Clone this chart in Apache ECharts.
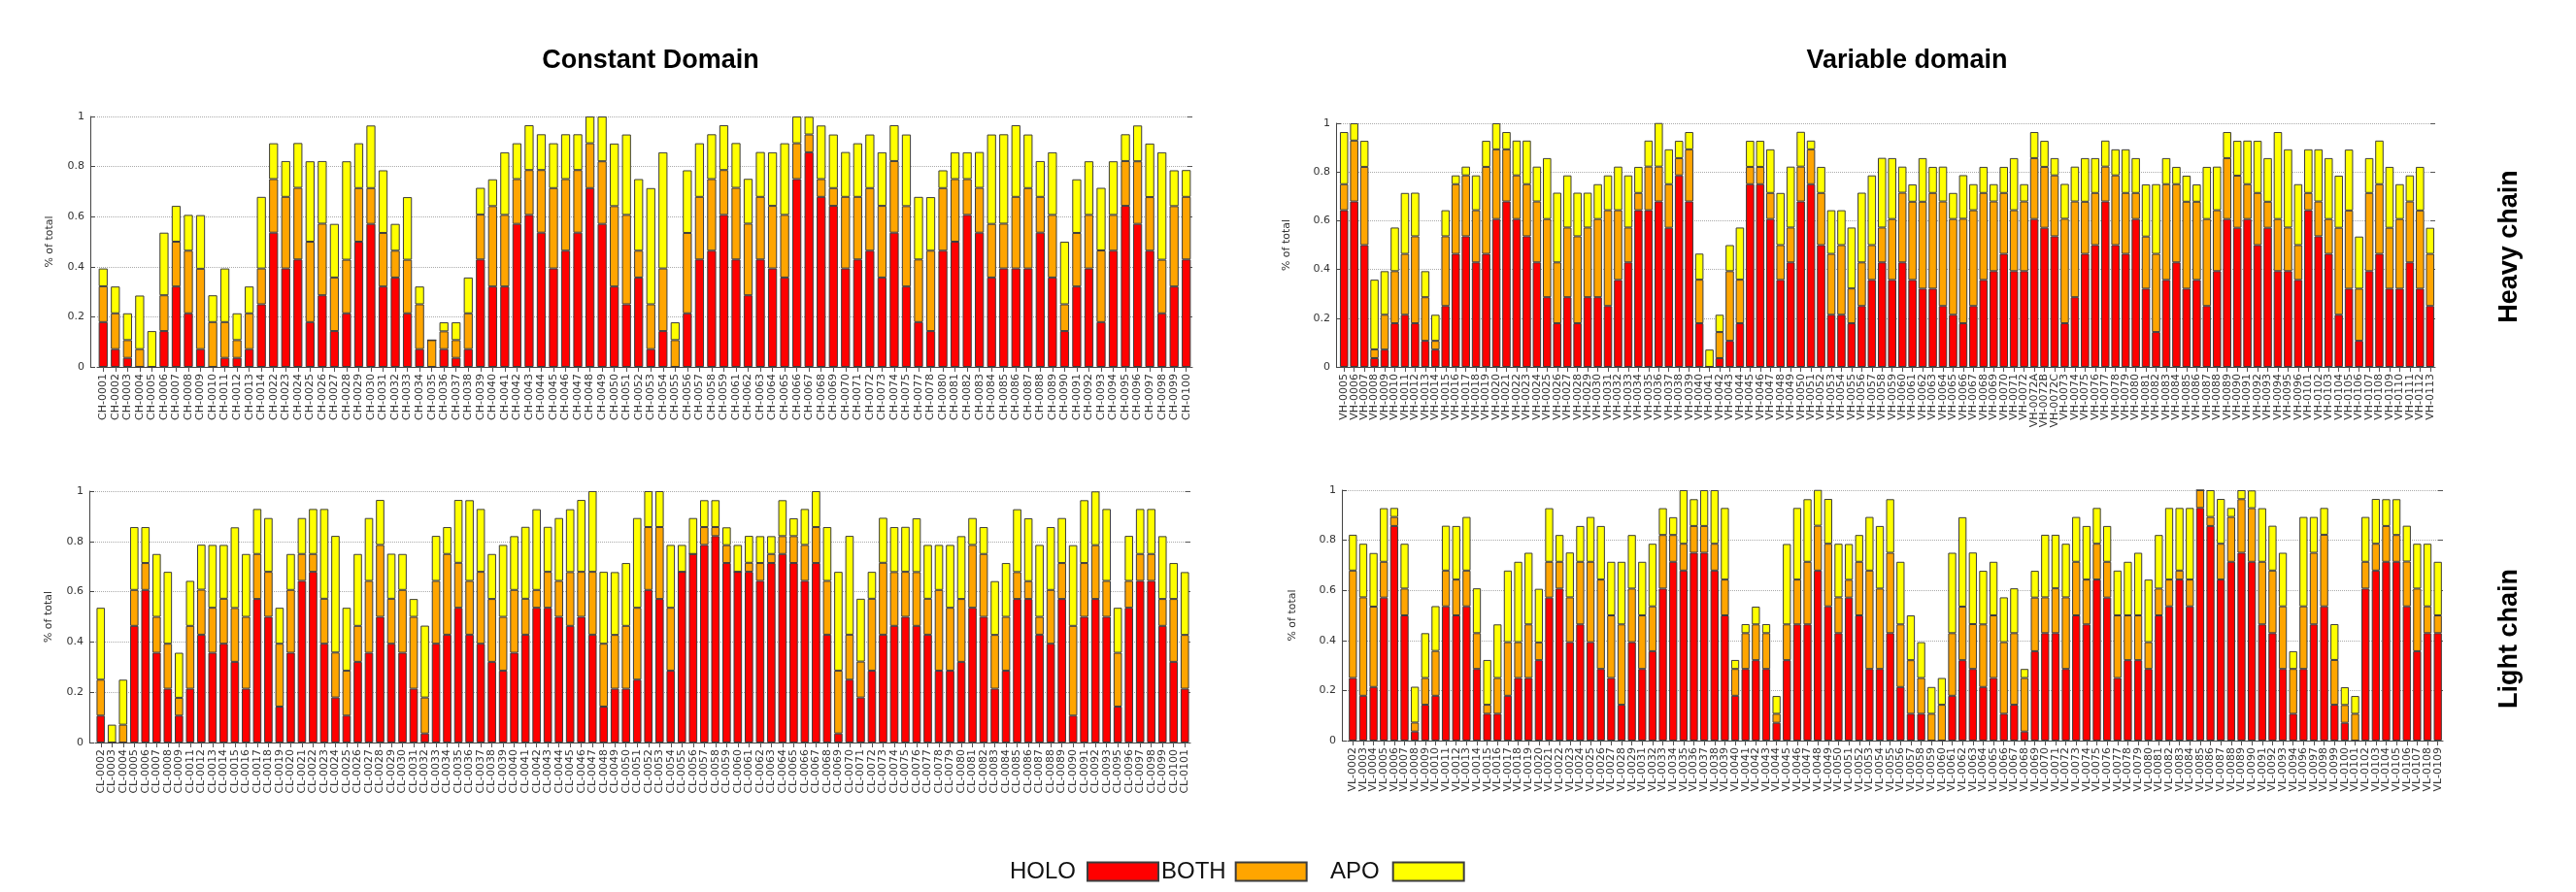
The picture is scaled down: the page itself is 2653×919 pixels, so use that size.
<!DOCTYPE html>
<html><head><meta charset="utf-8">
<script src="https://cdn.jsdelivr.net/npm/echarts@6/dist/echarts.min.js"></script>
<style>html,body{margin:0;padding:0;background:#fff}#c{width:2653px;height:919px}</style>
</head><body><div id="c"></div>
<script>
// ---------- Constant domain, heavy chain ----------
const chCats = [
'CH-0001','CH-0002','CH-0003','CH-0004','CH-0005','CH-0006','CH-0007','CH-0008','CH-0009','CH-0010',
'CH-0011','CH-0012','CH-0013','CH-0014','CH-0022','CH-0023','CH-0024','CH-0025','CH-0026','CH-0027',
'CH-0028','CH-0029','CH-0030','CH-0031','CH-0032','CH-0033','CH-0034','CH-0035','CH-0036','CH-0037',
'CH-0038','CH-0039','CH-0040','CH-0041','CH-0042','CH-0043','CH-0044','CH-0045','CH-0046','CH-0047',
'CH-0048','CH-0049','CH-0050','CH-0051','CH-0052','CH-0053','CH-0054','CH-0055','CH-0056','CH-0057',
'CH-0058','CH-0059','CH-0061','CH-0062','CH-0063','CH-0064','CH-0065','CH-0066','CH-0067','CH-0068',
'CH-0069','CH-0070','CH-0071','CH-0072','CH-0073','CH-0074','CH-0075','CH-0077','CH-0078','CH-0080',
'CH-0081','CH-0082','CH-0083','CH-0084','CH-0085','CH-0086','CH-0087','CH-0088','CH-0089','CH-0090',
'CH-0091','CH-0092','CH-0093','CH-0094','CH-0095','CH-0096','CH-0097','CH-0098','CH-0099','CH-0100'];
const chHolo = [
.179,.071,.036,0,0,.143,.321,.214,.071,0,
.036,.036,.071,.25,.536,.393,.429,.179,.286,.143,
.214,.5,.571,.321,.357,.214,.071,0,.071,.036,
.071,.429,.321,.321,.571,.607,.536,.393,.464,.536,
.714,.571,.321,.25,.357,.071,.143,0,.214,.429,
.464,.607,.429,.286,.429,.393,.357,.75,.857,.679,
.643,.393,.429,.464,.357,.536,.321,.179,.143,.464,
.5,.607,.536,.357,.393,.393,.393,.536,.357,.143,
.321,.393,.179,.464,.643,.571,.464,.214,.321,.429];
const chBoth = [
.143,.143,.071,.071,0,.143,.179,.25,.321,.179,
.143,.071,.143,.143,.214,.286,.286,.321,.286,.214,
.214,.214,.143,.214,.107,.214,.179,.107,.071,.071,
.143,.179,.321,.286,.179,.179,.25,.321,.286,.25,
.179,.25,.321,.357,.107,.179,.25,.107,.321,.25,
.286,.179,.286,.286,.25,.25,.25,.143,.071,.071,
.071,.286,.25,.25,.286,.286,.321,.25,.321,.25,
.25,.143,.179,.214,.179,.286,.321,.143,.25,.107,
.214,.214,.286,.143,.179,.25,.214,.214,.321,.25];
const chApo = [
.071,.107,.107,.214,.143,.25,.143,.143,.214,.107,
.214,.107,.107,.286,.143,.143,.179,.321,.25,.214,
.393,.179,.25,.25,.107,.25,.071,0,.036,.071,
.143,.107,.107,.25,.143,.179,.143,.179,.179,.143,
.107,.179,.25,.321,.286,.464,.464,.071,.25,.214,
.179,.179,.179,.179,.179,.214,.286,.107,.071,.214,
.214,.179,.214,.214,.214,.143,.286,.25,.214,.071,
.107,.107,.143,.357,.357,.286,.214,.143,.25,.25,
.214,.214,.25,.214,.107,.143,.214,.429,.143,.107];

// ---------- Variable domain, heavy chain ----------
const vhCats = [
'VH-0005','VH-0006','VH-0007','VH-0008','VH-0009','VH-0010','VH-0011','VH-0012','VH-0013','VH-0014',
'VH-0015','VH-0016','VH-0017','VH-0018','VH-0019','VH-0020','VH-0021','VH-0022','VH-0023','VH-0024',
'VH-0025','VH-0026','VH-0027','VH-0028','VH-0029','VH-0030','VH-0031','VH-0032','VH-0033','VH-0034',
'VH-0035','VH-0036','VH-0037','VH-0038','VH-0039','VH-0040','VH-0041','VH-0042','VH-0043','VH-0044',
'VH-0045','VH-0046','VH-0047','VH-0048','VH-0049','VH-0050','VH-0051','VH-0052','VH-0053','VH-0054',
'VH-0055','VH-0056','VH-0057','VH-0058','VH-0059','VH-0060','VH-0061','VH-0062','VH-0063','VH-0064',
'VH-0065','VH-0066','VH-0067','VH-0068','VH-0069','VH-0070','VH-0071','VH-0072','VH-0072A','VH-0072B',
'VH-0072C','VH-0073','VH-0074','VH-0075','VH-0076','VH-0077','VH-0078','VH-0079','VH-0080','VH-0081',
'VH-0082','VH-0083','VH-0084','VH-0085','VH-0086','VH-0087','VH-0088','VH-0089','VH-0090','VH-0091',
'VH-0092','VH-0093','VH-0094','VH-0095','VH-0096','VH-0101','VH-0102','VH-0103','VH-0104','VH-0105',
'VH-0106','VH-0107','VH-0108','VH-0109','VH-0110','VH-0111','VH-0112','VH-0113'];
const vhHolo = [
.643,.679,.5,.036,.071,.179,.214,.179,.107,.071,
.25,.464,.536,.429,.464,.607,.679,.607,.536,.429,
.286,.179,.286,.179,.286,.286,.25,.357,.429,.643,
.643,.679,.571,.786,.679,.179,0,.036,.107,.179,
.75,.75,.607,.357,.429,.679,.75,.5,.214,.214,
.179,.25,.357,.429,.357,.429,.357,.321,.321,.25,
.214,.179,.25,.357,.393,.464,.393,.393,.607,.571,
.536,.179,.286,.464,.5,.679,.5,.464,.607,.321,
.143,.357,.429,.321,.357,.25,.393,.607,.571,.607,
.5,.571,.393,.393,.357,.643,.536,.464,.214,.321,
.107,.393,.464,.321,.321,.429,.321,.25];
const vhBoth = [
.107,.25,.321,.036,.143,.214,.25,.357,.179,.036,
.286,.286,.25,.214,.357,.286,.214,.179,.214,.25,
.321,.25,.286,.357,.286,.321,.393,.286,.143,.071,
.179,.143,.179,.071,.214,.179,0,.107,.286,.179,
.071,.071,.107,.143,.143,.143,.143,.214,.25,.286,
.143,.179,.143,.143,.25,.286,.321,.357,.393,.429,
.393,.429,.393,.357,.286,.25,.25,.286,.25,.25,
.25,.429,.393,.214,.214,.143,.286,.25,.107,.214,
.321,.393,.321,.357,.321,.357,.25,.25,.214,.143,
.214,.107,.214,.179,.143,.071,.143,.143,.357,.321,
.214,.321,.286,.25,.286,.25,.321,.214];
const vhApo = [
.214,.071,.107,.286,.179,.179,.25,.179,.107,.107,
.107,.036,.036,.143,.107,.107,.071,.143,.179,.143,
.25,.286,.214,.179,.143,.143,.143,.179,.214,.107,
.107,.179,.143,.071,.071,.107,.071,.071,.107,.214,
.107,.107,.179,.214,.25,.143,.036,.107,.179,.143,
.25,.286,.286,.286,.25,.107,.071,.179,.107,.143,
.107,.179,.107,.107,.071,.107,.214,.071,.107,.107,
.071,.143,.143,.179,.143,.107,.107,.179,.143,.214,
.286,.107,.071,.107,.071,.214,.179,.107,.143,.179,
.214,.179,.357,.321,.25,.179,.214,.25,.214,.25,
.214,.143,.179,.25,.143,.107,.179,.107];

// ---------- Constant domain, light chain ----------
const clCats = [
'CL-0002','CL-0003','CL-0004','CL-0005','CL-0006','CL-0007','CL-0008','CL-0009','CL-0011','CL-0012',
'CL-0013','CL-0014','CL-0015','CL-0016','CL-0017','CL-0018','CL-0019','CL-0020','CL-0021','CL-0022',
'CL-0023','CL-0024','CL-0025','CL-0026','CL-0027','CL-0028','CL-0029','CL-0030','CL-0031','CL-0032',
'CL-0033','CL-0034','CL-0035','CL-0036','CL-0037','CL-0038','CL-0039','CL-0040','CL-0041','CL-0042',
'CL-0043','CL-0044','CL-0045','CL-0046','CL-0047','CL-0048','CL-0049','CL-0050','CL-0051','CL-0052',
'CL-0053','CL-0054','CL-0055','CL-0056','CL-0057','CL-0058','CL-0059','CL-0060','CL-0061','CL-0062',
'CL-0063','CL-0064','CL-0065','CL-0066','CL-0067','CL-0068','CL-0069','CL-0070','CL-0071','CL-0072',
'CL-0073','CL-0074','CL-0075','CL-0076','CL-0077','CL-0078','CL-0079','CL-0080','CL-0081','CL-0082',
'CL-0083','CL-0084','CL-0085','CL-0086','CL-0087','CL-0088','CL-0089','CL-0090','CL-0091','CL-0092',
'CL-0093','CL-0095','CL-0096','CL-0097','CL-0098','CL-0099','CL-0100','CL-0101'];
const clHolo = [
.107,0,0,.464,.607,.357,.214,.107,.214,.429,
.357,.393,.321,.214,.571,.5,.143,.357,.643,.679,
.393,.179,.107,.321,.357,.5,.393,.357,.214,.036,
.393,.429,.536,.429,.393,.321,.286,.357,.429,.536,
.536,.5,.464,.5,.429,.143,.214,.214,.25,.607,
.571,.286,.679,.75,.786,.821,.714,.679,.679,.643,
.714,.75,.714,.643,.714,.429,.036,.25,.179,.286,
.429,.464,.5,.464,.429,.286,.286,.321,.536,.5,
.214,.286,.571,.571,.429,.393,.571,.107,.5,.571,
.5,.143,.536,.643,.643,.464,.321,.214];
const clBoth = [
.143,0,.071,.143,.107,.143,.179,.071,.25,.179,
.179,.179,.214,.286,.179,.179,.25,.25,.107,.071,
.179,.179,.179,.143,.286,.286,.179,.25,.286,.143,
.25,.321,.179,.214,.286,.25,.214,.25,.143,.071,
.143,.143,.214,.179,.25,.25,.214,.25,.286,.25,
.286,.25,0,0,.071,.036,.071,0,.036,.071,
.036,.071,.107,.143,.143,.214,.25,.179,.143,.286,
.286,.214,.179,.214,.143,.321,.25,.25,.25,.25,
.214,.214,.107,.071,.071,.214,.143,.357,.214,.214,
.143,.214,.107,.107,.107,.107,.25,.214];
const clApo = [
.286,.071,.179,.25,.143,.25,.286,.179,.179,.179,
.25,.214,.321,.25,.179,.214,.143,.143,.143,.179,
.357,.464,.25,.286,.25,.179,.179,.143,.071,.286,
.179,.107,.25,.321,.25,.179,.286,.214,.286,.321,
.179,.25,.25,.286,.321,.286,.25,.25,.357,.143,
.143,.25,.107,.143,.107,.107,.071,.107,.107,.107,
.071,.143,.071,.143,.143,.214,.393,.393,.25,.107,
.179,.179,.179,.214,.214,.179,.25,.25,.107,.107,
.214,.214,.25,.25,.286,.25,.179,.321,.25,.214,
.286,.179,.179,.179,.179,.25,.143,.25];

// ---------- Variable domain, light chain ----------
const vlCats = [
'VL-0002','VL-0003','VL-0004','VL-0005','VL-0006','VL-0007','VL-0008','VL-0009','VL-0010','VL-0011',
'VL-0012','VL-0013','VL-0014','VL-0015','VL-0016','VL-0017','VL-0018','VL-0019','VL-0020','VL-0021',
'VL-0022','VL-0023','VL-0024','VL-0025','VL-0026','VL-0027','VL-0028','VL-0029','VL-0031','VL-0032',
'VL-0033','VL-0034','VL-0035','VL-0036','VL-0037','VL-0038','VL-0039','VL-0040','VL-0041','VL-0042',
'VL-0043','VL-0044','VL-0045','VL-0046','VL-0047','VL-0048','VL-0049','VL-0050','VL-0051','VL-0052',
'VL-0053','VL-0054','VL-0055','VL-0056','VL-0057','VL-0058','VL-0059','VL-0060','VL-0061','VL-0062',
'VL-0063','VL-0064','VL-0065','VL-0066','VL-0067','VL-0068','VL-0069','VL-0070','VL-0071','VL-0072',
'VL-0073','VL-0074','VL-0075','VL-0076','VL-0077','VL-0078','VL-0079','VL-0080','VL-0081','VL-0082',
'VL-0083','VL-0084','VL-0085','VL-0086','VL-0087','VL-0088','VL-0089','VL-0090','VL-0091','VL-0092',
'VL-0093','VL-0094','VL-0096','VL-0097','VL-0098','VL-0099','VL-0100','VL-0101','VL-0102','VL-0103',
'VL-0104','VL-0105','VL-0106','VL-0107','VL-0108','VL-0109'];
const vlHolo = [
.25,.179,.214,.571,.857,.5,.036,.143,.179,.536,
.5,.536,.286,.107,.107,.179,.25,.25,.321,.571,
.607,.393,.464,.393,.286,.25,.143,.393,.286,.357,
.607,.714,.679,.75,.75,.679,.5,.179,.286,.321,
.286,.071,.321,.464,.464,.679,.536,.429,.571,.5,
.286,.286,.429,.214,.107,.107,0,0,.179,.321,
.286,.214,.25,.107,.143,.036,.357,.429,.429,.286,
.5,.464,.643,.571,.25,.321,.321,.286,.5,.536,
.643,.536,.929,.857,.643,.714,.75,.714,.464,.429,
.286,.107,.286,.464,.536,.143,.071,0,.607,.679,
.714,.714,.536,.357,.429,.429];
const vlBoth = [
.429,.393,.321,.143,.036,.107,.036,.107,.179,.143,
.143,.143,.143,.036,.143,.214,.143,.214,.071,.143,
.107,.179,.25,.321,.357,.25,.321,.214,.214,.179,
.214,.107,.107,.107,.107,.107,.143,.107,.143,.143,
.143,.036,.143,.179,.25,.179,.25,.143,.071,.214,
.393,.321,.321,.25,.214,.143,.107,.143,.25,.214,
.179,.25,.25,.286,.286,.214,.214,.143,.179,.286,
.214,.179,.143,.143,.25,.179,.179,.107,.107,.107,
.036,.107,.071,.036,.143,.179,.214,.214,.25,.25,
.25,.179,.25,.286,.286,.179,.071,.107,.107,.107,
.143,.107,.179,.25,.107,.071];
const vlApo = [
.143,.214,.214,.214,.036,.179,.143,.179,.179,.179,
.214,.214,.179,.179,.214,.286,.321,.286,.214,.214,
.107,.179,.143,.179,.214,.214,.25,.214,.214,.25,
.107,.071,.214,.107,.143,.214,.286,.036,.036,.071,
.036,.071,.321,.286,.25,.143,.179,.214,.143,.107,
.214,.25,.214,.25,.179,.143,.107,.107,.321,.357,
.286,.214,.214,.179,.179,.036,.107,.25,.214,.214,
.179,.214,.143,.143,.179,.214,.25,.25,.214,.286,
.25,.286,0,.107,.179,.036,.036,.071,.214,.179,
.214,.071,.357,.143,.107,.143,.071,.071,.179,.179,
.107,.143,.143,.179,.25,.214];

const yTicks = {min: 0, max: 1, interval: 0.2};
const COLORS = {HOLO: '#ff0000', BOTH: '#ffa500', APO: '#ffff00'};

const panels = [
  {cats: chCats, holo: chHolo, both: chBoth, apo: chApo, grid: {left: 100, top: 120, width: 1128, height: 258}, yOff: 7, nameGap: 36, bw: '74%'},
  {cats: vhCats, holo: vhHolo, both: vhBoth, apo: vhApo, grid: {left: 1379, top: 127, width: 1129, height: 251}, yOff: 3, nameGap: 45, bw: '82%'},
  {cats: clCats, holo: clHolo, both: clBoth, apo: clApo, grid: {left: 98, top: 506, width: 1128, height: 259}, yOff: 6, nameGap: 36, bw: '75%'},
  {cats: vlCats, holo: vlHolo, both: vlBoth, apo: vlApo, grid: {left: 1388, top: 505, width: 1128, height: 258}, yOff: 6, nameGap: 45, bw: '78%'}
];

const FONT = 'DejaVu Sans';
const option = {
  animation: false,
  backgroundColor: '#ffffff',
  grid: [], xAxis: [], yAxis: [], series: [],
  legend: [],
  graphic: [
    {type: 'text', x: 670, y: 63, style: {text: 'Constant Domain', font: 'bold 27px "Liberation Sans"', fill: '#000', align: 'center', verticalAlign: 'middle'}},
    {type: 'text', x: 1964, y: 63, style: {text: 'Variable domain', font: 'bold 27px "Liberation Sans"', fill: '#000', align: 'center', verticalAlign: 'middle'}},
    {type: 'text', x: 2585, y: 254, rotation: Math.PI / 2, style: {text: 'Heavy chain', font: 'bold 27px "Liberation Sans"', fill: '#000', align: 'center', verticalAlign: 'middle'}},
    {type: 'text', x: 2585, y: 658, rotation: Math.PI / 2, style: {text: 'Light chain', font: 'bold 27px "Liberation Sans"', fill: '#000', align: 'center', verticalAlign: 'middle'}}
  ]
};

panels.forEach((p, i) => {
  option.grid.push(Object.assign({containLabel: false}, p.grid));
  option.xAxis.push({
    type: 'category', gridIndex: i, data: p.cats, position: 'bottom',
    axisLine: {show: true, lineStyle: {color: '#444', width: 1}},
    axisTick: {show: false},
    axisLabel: {interval: 0, rotate: 90, fontSize: 11, fontFamily: FONT, color: '#333', margin: 7}
  });
  option.xAxis.push({
    type: 'category', gridIndex: i, data: p.cats, position: 'top',
    axisLine: {show: false},
    axisTick: {show: true, inside: true, length: 5, alignWithLabel: true, interval: 0, lineStyle: {color: '#555'}},
    axisLabel: {show: false}, splitLine: {show: false}
  });
  option.yAxis.push({
    type: 'value', gridIndex: i, min: yTicks.min, max: yTicks.max, interval: yTicks.interval, offset: p.yOff,
    name: '% of total', nameLocation: 'middle', nameGap: p.nameGap,
    nameTextStyle: {fontSize: 11, fontFamily: FONT, color: '#333'},
    axisLine: {show: true, lineStyle: {color: '#444', width: 1}},
    axisTick: {show: true, inside: true, length: 5, lineStyle: {color: '#444'}},
    axisLabel: {fontSize: 11, fontFamily: FONT, color: '#333', margin: 6},
    splitLine: {show: true, lineStyle: {type: 'dotted', color: '#aaaaaa', width: 1}}
  });
  option.yAxis.push({
    type: 'value', gridIndex: i, min: yTicks.min, max: yTicks.max, interval: yTicks.interval, position: 'right',
    axisLine: {show: false},
    axisTick: {show: true, inside: true, length: 5, lineStyle: {color: '#555'}},
    axisLabel: {show: false}, splitLine: {show: false}
  });
  [['HOLO', p.holo], ['BOTH', p.both], ['APO', p.apo]].forEach(([name, data]) => {
    option.series.push({
      type: 'bar', name: name, xAxisIndex: 2 * i, yAxisIndex: 2 * i, stack: 'stk' + i,
      data: data, barWidth: p.bw,
      itemStyle: {color: COLORS[name], borderColor: '#3c3c3c', borderWidth: 1},
      emphasis: {disabled: true}
    });
  });
});

const legendCommon = {
  orient: 'horizontal', align: 'right', top: 886, padding: 0, icon: 'rect',
  itemWidth: 73, itemHeight: 19, selectedMode: false
};
[['HOLO', 1040, 7], ['BOTH', 1196, 5], ['APO', 1370, 9]].forEach(([name, left, pad]) => {
  option.legend.push(Object.assign({}, legendCommon, {
    data: [name], left: left,
    textStyle: {fontSize: 24, fontFamily: 'Liberation Sans', color: '#111', padding: [0, pad, 0, 0]}
  }));
});

const chart = echarts.init(document.getElementById('c'), null, {renderer: 'canvas'});
chart.setOption(option);
</script>
</body></html>
